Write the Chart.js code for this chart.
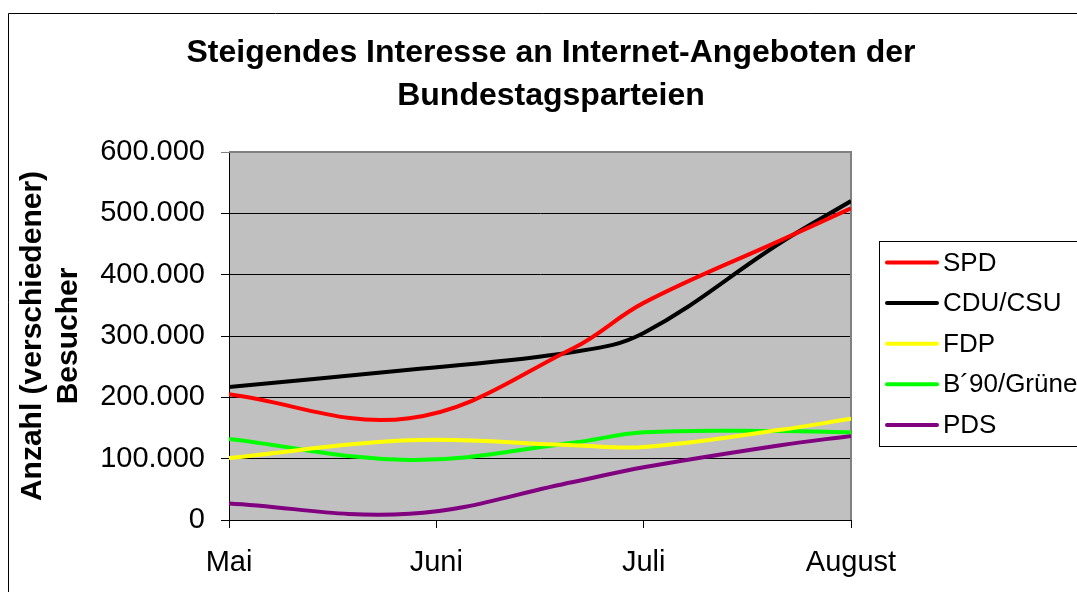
<!DOCTYPE html>
<html>
<head>
<meta charset="utf-8">
<script src="https://cdn.jsdelivr.net/npm/chart.js@4.4.0/dist/chart.umd.min.js"></script>
<style>
    html, body { margin: 0; padding: 0; background: #fff; overflow: hidden; }
</style>
</head>
<body>
<canvas id="chart" width="1077" height="592"></canvas>
<script>
// Month labels on the x axis (0 = Mai ... 3 = August)
const monthLabels = ['Mai', 'Juni', 'Juli', 'August'];
// Position of each measurement, in months after the start of May
const samplePos = [0, 0.87, 1.66, 2.0, 2.66, 3.0];

const titleLines = ['Steigendes Interesse an Internet-Angeboten der', 'Bundestagsparteien'];
const partyNames = ['SPD', 'CDU/CSU', 'FDP', 'B\u00b490/Gr\u00fcne', 'PDS'];
const partyColors = ['#ff0000', '#000000', '#ffff00', '#00ff00', '#800080'];

// Visitors per party
const spd    = [205000, 166000, 280000, 354000, 456000, 508000];
const cdu    = [217000, 245000, 274000, 305000, 452000, 520000];
const fdp    = [101000, 130000, 122000, 119000, 147000, 165000];
const gruene = [132000,  98000, 126000, 143000, 145000, 143000];
const pds    = [ 27000,  10000,  62000,  86000, 122000, 137000];

const seriesValues = [spd, cdu, fdp, gruene, pds];

const fontFamily = '"Liberation Sans", Arial, sans-serif';
Chart.defaults.font.family = fontFamily;
Chart.defaults.color = '#000';

// German thousands separator
const formatNumber = v => String(v).replace(/\B(?=(\d{3})+(?!\d))/g, '.');

// grey plot background, grey top/right frame, outer page frame, title
const plotFrame = {
    id: 'plotFrame',
    beforeDraw(chart) {
        const { ctx, chartArea: a } = chart;
        ctx.save();
        ctx.fillStyle = '#c0c0c0';
        ctx.fillRect(a.left, a.top, a.right - a.left, a.bottom - a.top);
        ctx.restore();
    },
    beforeDatasetsDraw(chart) {
        const { ctx, chartArea: a } = chart;
        ctx.save();
        ctx.strokeStyle = '#808080';
        ctx.lineWidth = 2;
        ctx.beginPath();
        ctx.moveTo(a.left, a.top);
        ctx.lineTo(a.right, a.top);
        ctx.lineTo(a.right, a.bottom);
        ctx.stroke();
        ctx.restore();
    },
    afterDraw(chart) {
        const ctx = chart.ctx;
        ctx.save();
        ctx.strokeStyle = '#000';
        ctx.lineWidth = 1;
        ctx.beginPath();
        ctx.moveTo(8.5, chart.height);
        ctx.lineTo(8.5, 13.5);
        ctx.lineTo(chart.width, 13.5);
        ctx.stroke();

        // title, centred on the whole frame
        ctx.fillStyle = '#000';
        ctx.font = 'bold 32px ' + fontFamily;
        ctx.textAlign = 'center';
        ctx.textBaseline = 'middle';
        titleLines.forEach((line, i) => ctx.fillText(line, 551, 53 + i * 43));
        ctx.restore();
    }
};

// framed legend on the right, partly cut by the page edge
const boxedLegend = {
    id: 'boxedLegend',
    afterDraw(chart) {
        const ctx = chart.ctx;
        ctx.save();
        ctx.fillStyle = '#fff';
        ctx.fillRect(879.5, 241.5, 300, 205);
        ctx.strokeStyle = '#000';
        ctx.lineWidth = 1;
        ctx.strokeRect(879.5, 241.5, 300, 205);
        ctx.font = '26px ' + fontFamily;
        ctx.textBaseline = 'middle';
        chart.data.datasets.forEach((ds, i) => {
            const y = 262.5 + i * 40.6;
            ctx.strokeStyle = ds.borderColor;
            ctx.lineWidth = 4;
            ctx.lineCap = 'round';
            ctx.beginPath();
            ctx.moveTo(887, y);
            ctx.lineTo(937, y);
            ctx.stroke();
            ctx.fillStyle = '#000';
            ctx.fillText(ds.label, 943, y + 1);
        });
        ctx.restore();
    }
};

new Chart(document.getElementById('chart'), {
    type: 'line',
    data: {
        datasets: partyNames.map((name, i) => ({
            label: name,
            data: samplePos.map((x, j) => ({ x: x, y: seriesValues[i][j] })),
            borderColor: partyColors[i],
            backgroundColor: partyColors[i],
            borderWidth: 4,
            pointRadius: 0,
            tension: 0.38,
            fill: false
        }))
    },
    options: {
        responsive: false,
        animation: false,
        layout: { padding: { left: 8, right: 226, top: 152, bottom: 0 } },
        plugins: {
            legend: { display: false },
            tooltip: { enabled: false },
            title: { display: false }
        },
        scales: {
            x: {
                type: 'linear',
                min: 0,
                max: 3,
                afterFit(scale) { scale.height = 72; },
                ticks: {
                    stepSize: 1,
                    callback: v => monthLabels[v],
                    font: { size: 29 },
                    color: '#000',
                    padding: 18,
                    maxRotation: 0
                },
                grid: { drawOnChartArea: false, drawTicks: true, tickLength: 8, color: '#000' },
                border: { color: '#000', width: 1 }
            },
            y: {
                min: 0,
                max: 600000,
                afterFit(scale) { scale.width = 221; },
                ticks: {
                    stepSize: 100000,
                    callback: v => formatNumber(v),
                    font: { size: 29 },
                    color: '#000',
                    padding: 16
                },
                grid: {
                    color: ctx => (ctx.tick && ctx.tick.value === 600000 ? '#808080' : '#000'),
                    tickLength: 8
                },
                border: { color: '#000', width: 1 },
                title: {
                    display: true,
                    text: ['Anzahl (verschiedener)', 'Besucher'],
                    font: { size: 30, weight: 'bold' },
                    lineHeight: 1.2,
                    color: '#000',
                    padding: { top: 7, bottom: 0 }
                }
            }
        }
    },
    plugins: [plotFrame, boxedLegend]
});
</script>
</body>
</html>
